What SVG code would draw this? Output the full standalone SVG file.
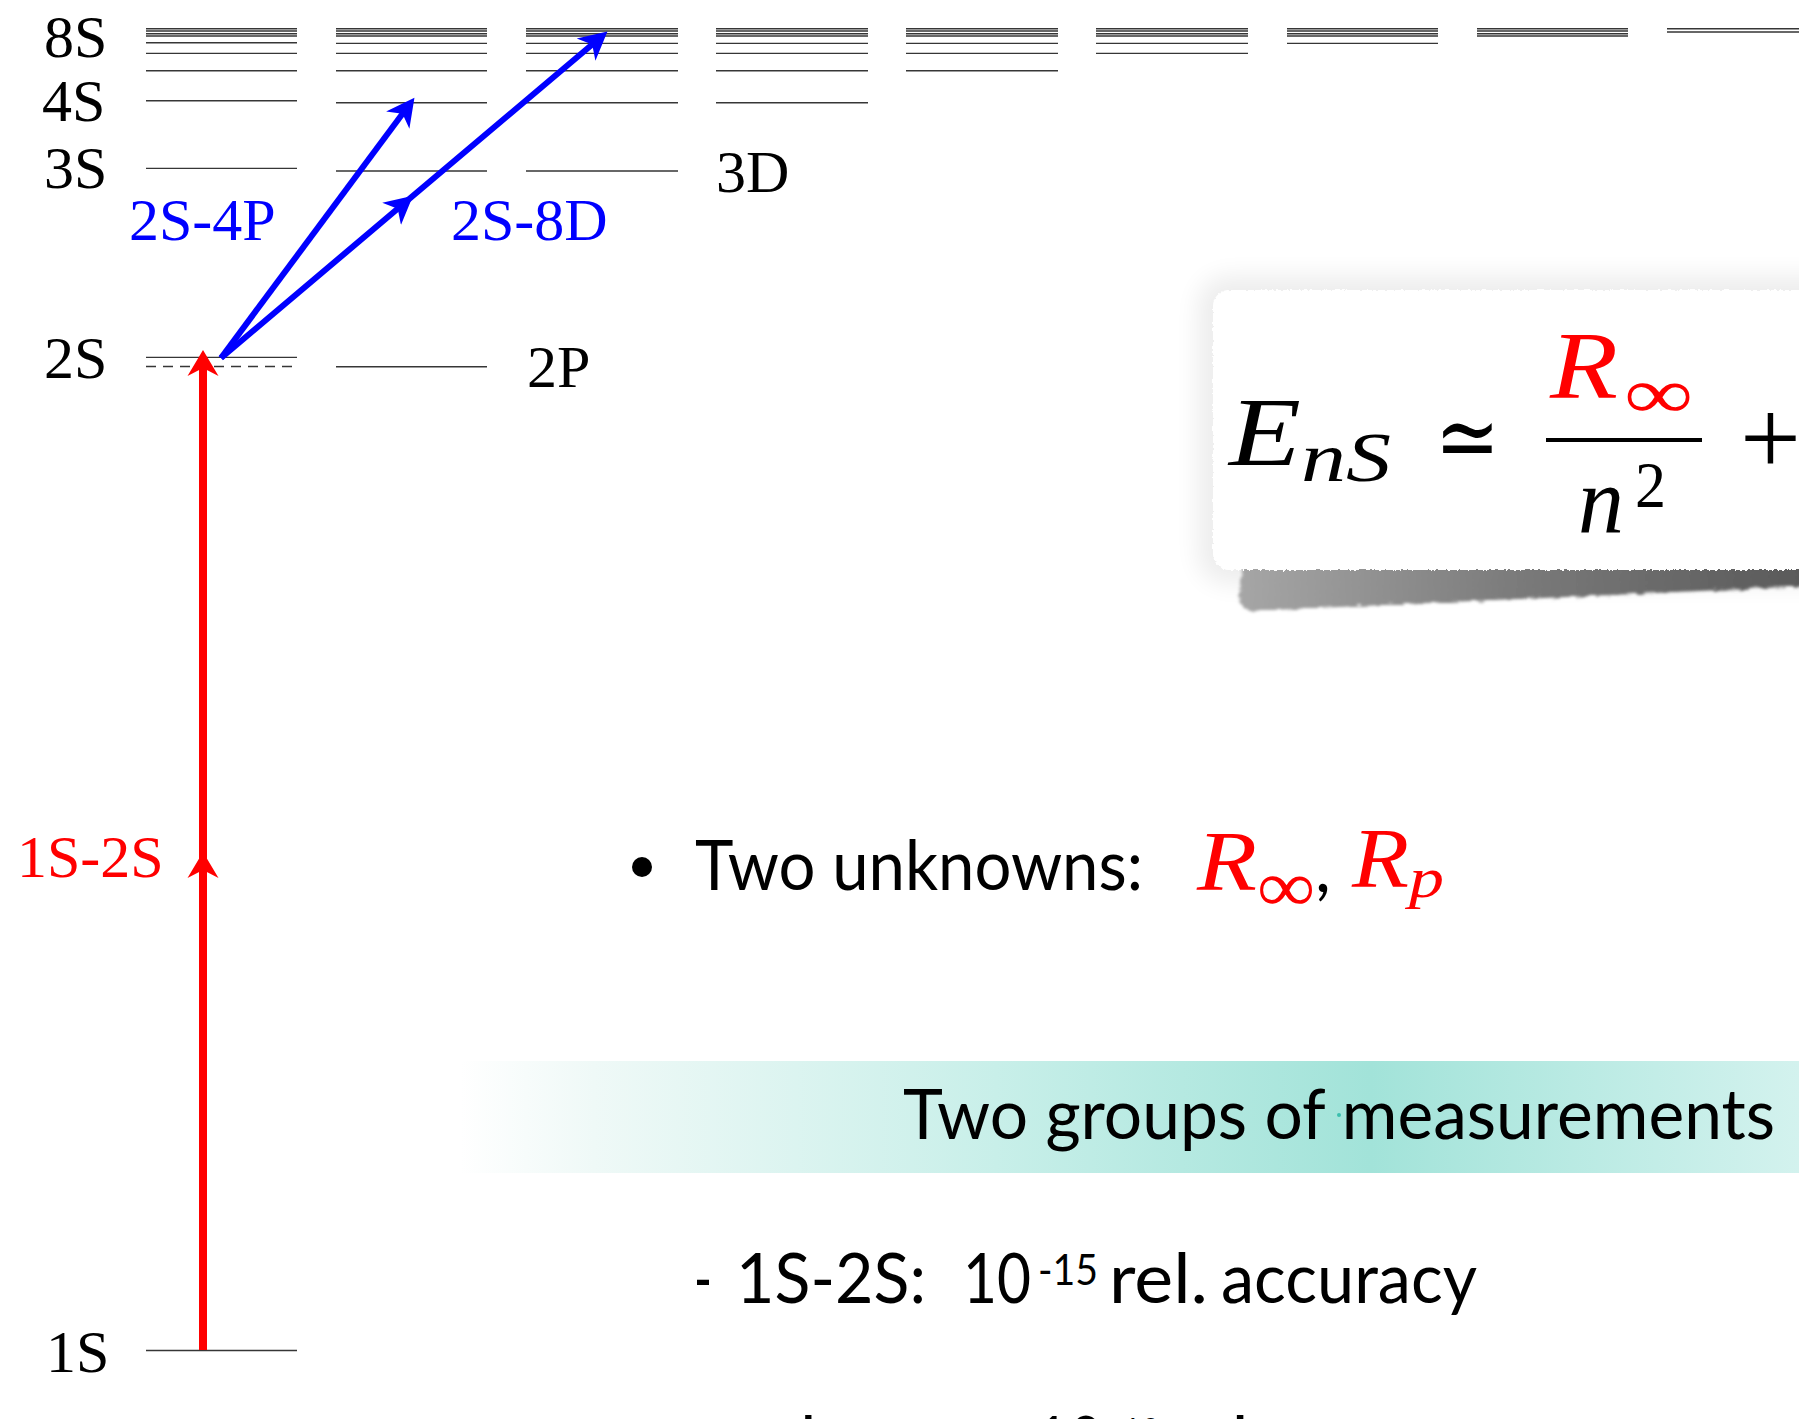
<svg xmlns="http://www.w3.org/2000/svg" width="1799" height="1419" viewBox="0 0 1799 1419">
<style>
.lv{stroke:#363636;stroke-width:1.35;fill:none}
.dash{stroke:#363636;stroke-width:1.3;fill:none;stroke-dasharray:10 7}
.lab{font-family:"Liberation Serif","Times New Roman",serif;font-size:60px;fill:#000}
.blue{fill:#0000ff}
.redt{fill:#ff0000}
.sans{font-family:Lato,"Open Sans",sans-serif;font-size:70px;fill:#000}
.sup{font-size:43px}
.mi{font-family:"Liberation Serif","Times New Roman",serif;font-style:italic}
.mr{font-family:"Liberation Serif","Times New Roman",serif}
.sym{font-family:"DejaVu Serif",serif}
.ra{stroke:#ff0000;stroke-width:8;fill:none}
.ba{stroke:#0000ff;stroke-width:6;fill:none}
</style>
<defs>
<marker id="hrMid" markerUnits="userSpaceOnUse" markerWidth="32" markerHeight="36" viewBox="0 -18 32 36" refX="26" refY="0" orient="auto"><path d="M26,0 L0,-15.5 L8,0 L0,15.5 Z" fill="#ff0000"/></marker>
<marker id="hrEnd" markerUnits="userSpaceOnUse" markerWidth="32" markerHeight="36" viewBox="0 -18 32 36" refX="10" refY="0" orient="auto"><path d="M26,0 L0,-15.5 L8,0 L0,15.5 Z" fill="#ff0000"/></marker>
<marker id="hbMid" markerUnits="userSpaceOnUse" markerWidth="32" markerHeight="34" viewBox="0 -17 32 34" refX="28" refY="0" orient="auto"><path d="M28,0 L0,-14.5 L8,0 L0,14.5 Z" fill="#0000ff"/></marker>
<marker id="hbEnd" markerUnits="userSpaceOnUse" markerWidth="32" markerHeight="34" viewBox="0 -17 32 34" refX="13" refY="0" orient="auto"><path d="M28,0 L0,-14.5 L8,0 L0,14.5 Z" fill="#0000ff"/></marker>
<linearGradient id="band" gradientUnits="userSpaceOnUse" x1="460" y1="0" x2="1799" y2="0">
<stop offset="0" stop-color="#ffffff"/>
<stop offset="0.1" stop-color="#eff9f7"/>
<stop offset="0.4" stop-color="#c8efe9"/>
<stop offset="0.68" stop-color="#a2e3d9"/>
<stop offset="1" stop-color="#d3f2ee"/>
</linearGradient>
<linearGradient id="shade" gradientUnits="userSpaceOnUse" x1="1240" y1="0" x2="1799" y2="0">
<stop offset="0" stop-color="#a6a6a6"/>
<stop offset="0.5" stop-color="#7a7a7a"/>
<stop offset="1" stop-color="#5a5a5a"/>
</linearGradient>
<filter id="glow" x="-20%" y="-30%" width="140%" height="160%"><feGaussianBlur stdDeviation="12"/></filter>
<filter id="soft" x="-5%" y="-50%" width="110%" height="200%">
<feTurbulence type="fractalNoise" baseFrequency="0.08 0.5" numOctaves="2" seed="7" result="n"/>
<feDisplacementMap in="SourceGraphic" in2="n" scale="6" xChannelSelector="R" yChannelSelector="G" result="d"/>
<feGaussianBlur in="d" stdDeviation="1.4"/>
</filter>
<filter id="rough" x="-5%" y="-5%" width="110%" height="110%">
<feTurbulence type="fractalNoise" baseFrequency="0.35" numOctaves="2" seed="3" result="n"/>
<feDisplacementMap in="SourceGraphic" in2="n" scale="4" xChannelSelector="R" yChannelSelector="G"/>
</filter>
</defs>
<rect width="1799" height="1419" fill="#ffffff"/>

<g id="levels">
<g id="col-S">
<path class="lv" d="M146,28.7H297M146,31H297M146,33.7H297M146,36H297M146,42.7H297M146,53.3H297M146,70.7H297M146,100.7H297M146,168.3H297M146,357.3H297M146,1350.5H297"/>
<path class="dash" d="M146,366.5H297"/>
</g>
<g id="col-P"><path class="lv" d="M336,28.7H487M336,31H487M336,33.7H487M336,36H487M336,43.3H487M336,53.3H487M336,70.7H487M336,102.7H487M336,171H487M336,366.7H487"/></g>
<g id="col-D"><path class="lv" d="M526,28.7H678M526,31H678M526,33.7H678M526,36H678M526,43.3H678M526,53.3H678M526,70.7H678M526,102.7H678M526,171H678"/></g>
<g id="col-F"><path class="lv" d="M716,28.7H868M716,31H868M716,33.7H868M716,36H868M716,43.3H868M716,53.3H868M716,70.7H868M716,102.7H868"/></g>
<g id="col-G"><path class="lv" d="M906,28.7H1058M906,31H1058M906,33.7H1058M906,36H1058M906,43.3H1058M906,53.3H1058M906,70.7H1058"/></g>
<g id="col-H"><path class="lv" d="M1096,28.7H1248M1096,31H1248M1096,33.7H1248M1096,36H1248M1096,43.3H1248M1096,53.3H1248"/></g>
<g id="col-7"><path class="lv" d="M1287,28.7H1438M1287,31H1438M1287,33.7H1438M1287,36H1438M1287,43.3H1438"/></g>
<g id="col-8"><path class="lv" d="M1477,28.7H1628M1477,31H1628M1477,33.7H1628M1477,36H1628"/></g>
<g id="col-9"><path class="lv" d="M1667,28.7H1820M1667,32H1820"/></g>
</g>

<g id="level-labels">
<text class="lab" x="44" y="57">8S</text>
<text class="lab" x="42" y="121">4S</text>
<text class="lab" x="44" y="188">3S</text>
<text class="lab" x="44" y="378">2S</text>
<text class="lab" x="46" y="1372">1S</text>
<text class="lab" x="527" y="387">2P</text>
<text class="lab" x="716" y="192">3D</text>
</g>

<g id="connectors">
<path id="arrow-1S-2S" class="ra" d="M203,1350 L203,852 L203,366" marker-mid="url(#hrMid)" marker-end="url(#hrEnd)"/>
<path id="arrow-2S-4P" class="ba" d="M221,358 L405.5,109.7" marker-end="url(#hbEnd)"/>
<path id="arrow-2S-8D" class="ba" d="M221,358 L413,195.8 L596,41.3" marker-mid="url(#hbMid)" marker-end="url(#hbEnd)"/>
</g>

<g id="transition-labels">
<text class="lab redt" x="17" y="877">1S-2S</text>
<text class="lab blue" x="129" y="240">2S-4P</text>
<text class="lab blue" x="451" y="240">2S-8D</text>
</g>

<g id="formula-box">
<rect x="1198" y="276" width="660" height="308" rx="30" fill="#000" opacity="0.07" filter="url(#glow)"/>
<path d="M1244,562 L1810,562 L1810,586 L1252,611 Q1238,608 1239,592 Z" fill="url(#shade)" filter="url(#soft)"/>
<rect x="1213" y="290" width="640" height="280" rx="16" fill="#ffffff" filter="url(#rough)"/>
<text class="mi" x="1229" y="465" font-size="98" textLength="72" lengthAdjust="spacingAndGlyphs">E</text>
<text class="mi" x="1301" y="481" font-size="70" textLength="90" lengthAdjust="spacingAndGlyphs">nS</text>
<text class="sym" x="1435" y="470" font-size="96" textLength="65" lengthAdjust="spacingAndGlyphs">≃</text>
<text class="mi redt" x="1550" y="398" font-size="96" textLength="68" lengthAdjust="spacingAndGlyphs">R</text>
<text class="mr redt" x="1624" y="418" font-size="72" textLength="69" lengthAdjust="spacingAndGlyphs">∞</text>
<rect x="1546" y="438" width="156" height="4" fill="#000"/>
<text class="mi" x="1578" y="533" font-size="96" textLength="46" lengthAdjust="spacingAndGlyphs">n</text>
<text class="mr" x="1635" y="507" font-size="66" textLength="31" lengthAdjust="spacingAndGlyphs">2</text>
<text class="mr" x="1740" y="474" font-size="108">+</text>
</g>

<g id="unknowns">
<circle cx="642" cy="867" r="10" fill="#000"/>
<text class="sans" x="695" y="890" textLength="448" lengthAdjust="spacingAndGlyphs">Two unknowns:</text>
<text class="mi redt" x="1197" y="890" font-size="84" textLength="60" lengthAdjust="spacingAndGlyphs">R</text>
<text class="mr redt" x="1257" y="911" font-size="72" textLength="58" lengthAdjust="spacingAndGlyphs">∞</text>
<text class="sans" x="1315" y="892">,</text>
<text class="mi redt" x="1352" y="887" font-size="84" textLength="57" lengthAdjust="spacingAndGlyphs">R</text>
<text class="mi redt" x="1409" y="897" font-size="58" textLength="35" lengthAdjust="spacingAndGlyphs">p</text>
</g>

<g id="groups-band">
<rect x="460" y="1061" width="1339" height="112" fill="url(#band)"/>
<circle cx="1339" cy="1115" r="2" fill="#3bbfae"/>
<text class="sans" x="903" y="1139" textLength="872" lengthAdjust="spacingAndGlyphs">Two groups of measurements</text>
</g>

<g id="line-1S-2S">
<text class="sans" x="694" y="1303" textLength="18" lengthAdjust="spacingAndGlyphs">-</text>
<text class="sans" x="736" y="1303" textLength="190" lengthAdjust="spacingAndGlyphs">1S-2S:</text>
<text class="sans" x="963" y="1303" textLength="68" lengthAdjust="spacingAndGlyphs">10</text>
<text class="sans sup" x="1038" y="1285" textLength="60" lengthAdjust="spacingAndGlyphs">-15</text>
<text class="sans" x="1109" y="1303" textLength="99" lengthAdjust="spacingAndGlyphs">rel.</text>
<text class="sans" x="1221" y="1303" textLength="256" lengthAdjust="spacingAndGlyphs">accuracy</text>
</g>

<g id="line-others">
<text class="sans" x="694" y="1466" textLength="18" lengthAdjust="spacingAndGlyphs">-</text>
<text class="sans" x="736" y="1466">others:</text>
<text class="sans" x="1035" y="1466" textLength="68" lengthAdjust="spacingAndGlyphs">10</text>
<text class="sans sup" x="1110" y="1449" textLength="50" lengthAdjust="spacingAndGlyphs">-12</text>
<text class="sans" x="1168" y="1466" textLength="98" lengthAdjust="spacingAndGlyphs">rel.</text>
<text class="sans" x="1280" y="1466" textLength="256" lengthAdjust="spacingAndGlyphs">accuracy</text>
</g>
</svg>
